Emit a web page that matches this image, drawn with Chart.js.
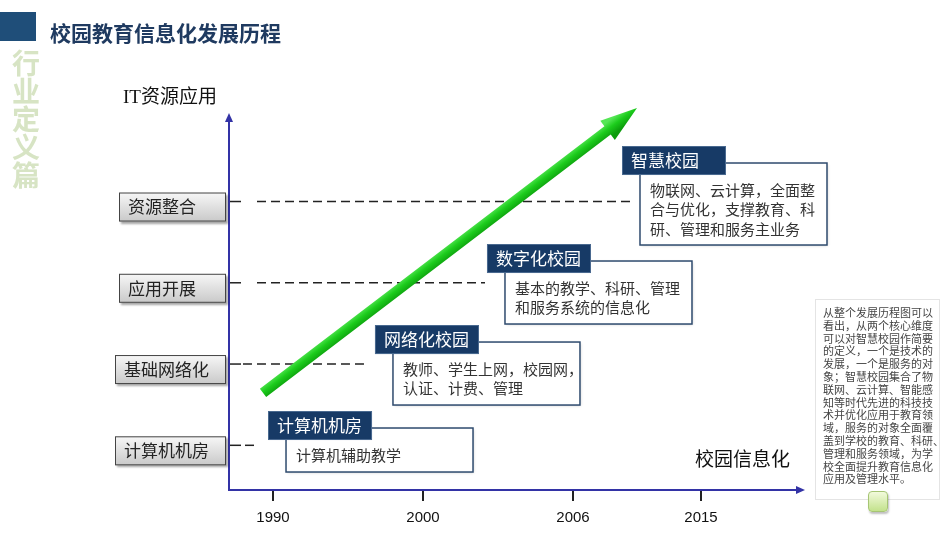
<!DOCTYPE html>
<html><head><meta charset="utf-8">
<script src="https://cdn.jsdelivr.net/npm/chart.js@4.4.0/dist/chart.umd.min.js"></script>
<style>
html,body{margin:0;padding:0;background:#fff;}
#wrap{position:relative;width:950px;height:535px;overflow:hidden;font-family:"Noto Sans CJK SC",sans-serif;}
#c{position:absolute;left:0;top:0;}
#bar{position:absolute;left:0;top:12px;width:36px;height:29px;background:#1f4e79;}
#title{position:absolute;left:50px;top:17px;font-size:21px;font-weight:bold;color:#1f3a60;line-height:30px;white-space:nowrap;}
#side{position:absolute;left:12px;top:48px;width:30px;font-size:28px;line-height:28px;font-weight:bold;color:#d7e4c4;}
#note{position:absolute;left:815px;top:299px;width:125px;height:201px;box-sizing:border-box;border:1px solid #e4e4e4;padding:6px 0 0 7px;font-size:11px;line-height:12.8px;color:#444;white-space:nowrap;background:#fff;}
#btn{position:absolute;left:868px;top:491px;width:20px;height:21px;box-sizing:border-box;border-radius:4px;border:1px solid #a6c574;background:linear-gradient(#f2fadc,#c3e28c);box-shadow:1px 2px 2px rgba(0,0,0,0.25);}
</style>
</head><body>
<div id="wrap">
<canvas id="c" width="950" height="535"></canvas>
<div id="bar"></div>
<div id="title">校园教育信息化发展历程</div>
<div id="side">行<br>业<br>定<br>义<br>篇</div>
<div id="note">从整个发展历程图可以<br>看出，从两个核心维度<br>可以对智慧校园作简要<br>的定义，一个是技术的<br>发展，一个是服务的对<br>象；智慧校园集合了物<br>联网、云计算、智能感<br>知等时代先进的科技技<br>术并优化应用于教育领<br>域，服务的对象全面覆<br>盖到学校的教育、科研、<br>管理和服务领域，为学<br>校全面提升教育信息化<br>应用及管理水平。</div>
<div id="btn"></div>
</div>
<script>
// ---- data ----
const yAxisTitle = 'IT资源应用';
const xAxisTitle = '校园信息化';
const levelLabels = ['计算机机房', '基础网络化', '应用开展', '资源整合'];
const levelValues = [1, 2, 3, 4];
const yearLabels = ['1990', '2000', '2006', '2015'];
const yearPositions = [7.75, 34.15, 60.56, 83.10];
const guideStart = [2.82, 2.46, 4.93, 4.93];
const guideEnd = [5.02, 24.30, 45.07, 71.48];
const trendX = [5.99, 71.83];
const trendY = [1.644, 5.151];
const stageNames = ['计算机机房', '网络化校园', '数字化校园', '智慧校园'];
const stageDesc = [
  ['计算机辅助教学'],
  ['教师、学生上网，校园网，', '认证、计费、管理'],
  ['基本的教学、科研、管理', '和服务系统的信息化'],
  ['物联网、云计算，全面整', '合与优化，支撑教育、科', '研、管理和服务主业务']
];
const stageX = [6.87, 25.70, 45.42, 69.19];
const stageY = [1.422, 2.480, 3.477, 4.683];

const CJK = '"Noto Sans CJK SC", sans-serif';
const AXIS_COLOR = '#3333a6';

const datasets = levelValues.map((lv, i) => ({
  label: levelLabels[i],
  data: [{x: guideStart[i], y: lv}, {x: guideEnd[i], y: lv}],
  showLine: true, borderColor: '#222', borderWidth: 1.5, borderDash: [9, 5],
  pointRadius: 0, fill: false
}));
datasets.push({
  label: 'trend',
  data: trendX.map((x, i) => ({x: x, y: trendY[i]})),
  showLine: false, pointRadius: 0, clip: false
});

const deco = {
  id: 'deco',
  afterDatasetsDraw(chart) {
    const ctx = chart.ctx, xs = chart.scales.x, ys = chart.scales.y;
    // green trend arrow
    const meta = chart.getDatasetMeta(chart.data.datasets.length - 1);
    const a = meta.data[0], b = meta.data[1];
    const dx = b.x - a.x, dy = b.y - a.y, len = Math.hypot(dx, dy);
    const ux = dx / len, uy = dy / len, nx = -uy, ny = ux;
    const headLen = 37, headHalf = 12, sh = 5.2;
    const bx = b.x - ux * headLen, by = b.y - uy * headLen;
    ctx.save();
    const g = ctx.createLinearGradient(a.x - nx * 7, a.y - ny * 7, a.x + nx * 7, a.y + ny * 7);
    g.addColorStop(0, '#55e655');
    g.addColorStop(0.45, '#1ccc1c');
    g.addColorStop(1, '#0c9c0c');
    ctx.beginPath();
    ctx.moveTo(a.x - nx * sh, a.y - ny * sh);
    ctx.lineTo(bx - nx * sh, by - ny * sh);
    ctx.lineTo(bx - nx * headHalf, by - ny * headHalf);
    ctx.lineTo(b.x, b.y);
    ctx.lineTo(bx + nx * headHalf, by + ny * headHalf);
    ctx.lineTo(bx + nx * sh, by + ny * sh);
    ctx.lineTo(a.x + nx * sh, a.y + ny * sh);
    ctx.closePath();
    ctx.fillStyle = g;
    ctx.fill();
    ctx.restore();

    // stage callouts
    stageNames.forEach((name, i) => {
      const x = xs.getPixelForValue(stageX[i]);
      const y = ys.getPixelForValue(stageY[i]);
      const lines = stageDesc[i];
      const bodyX = x + 18, bodyY = y + 17, bodyW = 187;
      const bodyH = 42 + lines.length * 19 - 17;
      ctx.save();
      ctx.shadowColor = 'rgba(0,0,0,0.22)';
      ctx.shadowBlur = 3; ctx.shadowOffsetX = 1; ctx.shadowOffsetY = 1;
      ctx.fillStyle = '#fff';
      ctx.fillRect(bodyX, bodyY, bodyW, bodyH);
      ctx.restore();
      ctx.save();
      ctx.strokeStyle = '#2f4b6e'; ctx.lineWidth = 1.5;
      ctx.strokeRect(bodyX, bodyY, bodyW, bodyH);
      ctx.fillStyle = '#333';
      ctx.font = '15px ' + CJK;
      ctx.textBaseline = 'middle'; ctx.textAlign = 'left';
      lines.forEach((t, j) => ctx.fillText(t, bodyX + 10, y + 44 + j * 19.5));
      // title box
      ctx.fillStyle = '#173a66';
      ctx.fillRect(x, y, 104, 29);
      ctx.strokeStyle = '#4a6a90'; ctx.lineWidth = 1;
      ctx.strokeRect(x + 0.5, y + 0.5, 103, 28);
      ctx.fillStyle = '#fff';
      ctx.font = '17px ' + CJK;
      ctx.fillText(name, x + 9, y + 15);
      ctx.restore();
    });
  },
  afterDraw(chart) {
    const ctx = chart.ctx, ca = chart.chartArea, ys = chart.scales.y;
    ctx.save();
    // axis arrowheads
    ctx.fillStyle = AXIS_COLOR;
    ctx.beginPath();
    ctx.moveTo(ca.right + 8, ca.bottom);
    ctx.lineTo(ca.right - 1, ca.bottom - 4);
    ctx.lineTo(ca.right - 1, ca.bottom + 4);
    ctx.closePath(); ctx.fill();
    ctx.beginPath();
    ctx.moveTo(ca.left, ca.top - 4);
    ctx.lineTo(ca.left - 4, ca.top + 5);
    ctx.lineTo(ca.left + 4, ca.top + 5);
    ctx.closePath(); ctx.fill();

    // level label boxes + ticks
    levelLabels.forEach((lab, i) => {
      const py = ys.getPixelForValue(levelValues[i]);
      ctx.font = '17px ' + CJK;
      const tw = ctx.measureText(lab).width;
      const w = Math.max(107, tw + 26), h = 29;
      const right = ca.left - 3, left = right - w, top = py - 9;
      ctx.save();
      ctx.shadowColor = 'rgba(0,0,0,0.35)';
      ctx.shadowBlur = 2; ctx.shadowOffsetX = 2; ctx.shadowOffsetY = 2;
      const gg = ctx.createLinearGradient(0, top, 0, top + h);
      gg.addColorStop(0, '#f7f7f7');
      gg.addColorStop(1, '#c9c9c9');
      ctx.fillStyle = gg;
      ctx.fillRect(left, top, w, h);
      ctx.restore();
      ctx.strokeStyle = '#444'; ctx.lineWidth = 1;
      ctx.strokeRect(left + 0.5, top + 0.5, w - 1, h - 1);
      ctx.fillStyle = '#222';
      ctx.textBaseline = 'middle'; ctx.textAlign = 'left';
      ctx.fillText(lab, left + 9, top + h / 2);
      ctx.strokeStyle = '#222'; ctx.lineWidth = 1.5;
      ctx.beginPath();
      ctx.moveTo(ca.left + 1, py); ctx.lineTo(ca.left + 12, py);
      ctx.stroke();
    });

    // axis titles
    ctx.fillStyle = '#111';
    ctx.textBaseline = 'middle';
    ctx.textAlign = 'left';
    ctx.font = '19px "Liberation Serif", ' + CJK;
    ctx.fillText(yAxisTitle, ca.left - 106, ca.top - 19);
    ctx.textAlign = 'right';
    ctx.font = '19px ' + CJK;
    ctx.fillText(xAxisTitle, ca.right - 7, ca.bottom - 31);
    ctx.restore();
  }
};

new Chart(document.getElementById('c'), {
  type: 'scatter',
  data: {datasets: datasets},
  options: {
    responsive: false,
    animation: false,
    devicePixelRatio: 1,
    layout: {padding: {left: 229, right: 153, top: 117, bottom: 0}},
    plugins: {legend: {display: false}, tooltip: {enabled: false}},
    scales: {
      x: {
        type: 'linear', position: 'bottom', min: 0, max: 100,
        afterBuildTicks: (s) => { s.ticks = yearPositions.map(v => ({value: v})); },
        afterFit: (s) => { s.height = 45; },
        grid: {display: true, drawOnChartArea: false, drawTicks: true, tickLength: 11, tickColor: '#222', lineWidth: 2},
        border: {display: true, color: AXIS_COLOR, width: 2},
        ticks: {
          autoSkip: false, maxRotation: 0, padding: 8, color: '#111',
          font: {family: '"Liberation Sans", sans-serif', size: 15},
          callback: (v) => { const k = yearPositions.indexOf(v); return k >= 0 ? yearLabels[k] : ''; }
        }
      },
      y: {
        type: 'linear', min: 0.45, max: 5.04,
        afterFit: (s) => { s.width = 0; },
        grid: {display: false},
        border: {display: true, color: AXIS_COLOR, width: 2},
        ticks: {display: false}
      }
    }
  },
  plugins: [deco]
});
</script>
</body></html>
